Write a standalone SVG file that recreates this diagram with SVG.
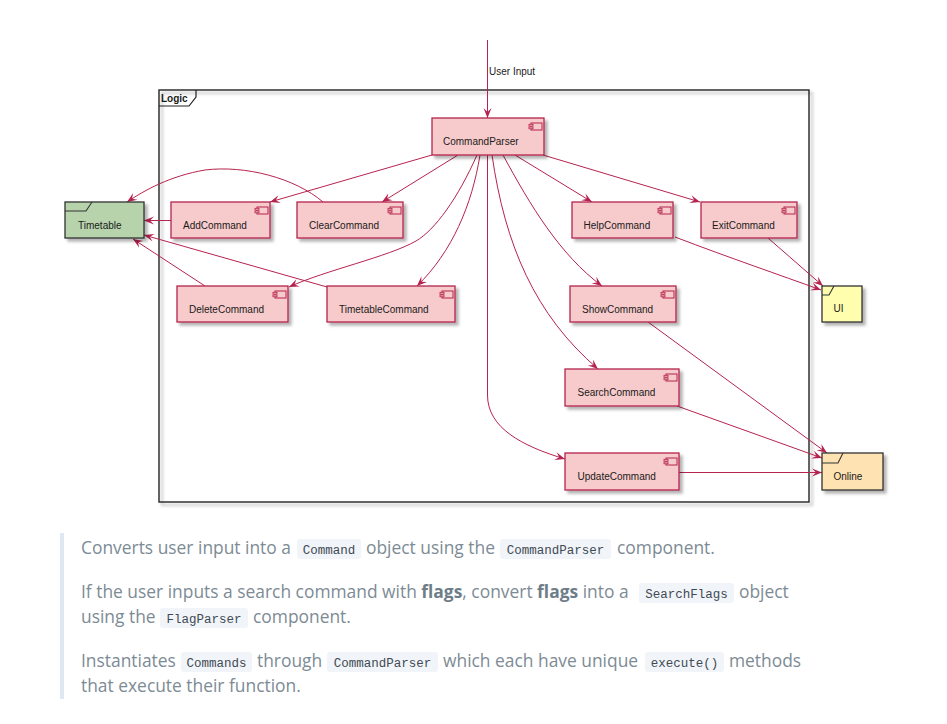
<svg xmlns="http://www.w3.org/2000/svg" xmlns:xlink="http://www.w3.org/1999/xlink" width="947" height="724" viewBox="0 0 947 724">
<style>
.comp{fill:#F7CBCB;stroke:#B5234E;stroke-width:1.3}
.lbl{font-family:"Liberation Sans",Arial,sans-serif;font-size:10px;fill:#1a1a1a}
.edge{fill:none;stroke:#B5234E;stroke-width:1}
.frm{stroke:#333;stroke-width:1.3}
.p{font-family:"Open Sans","Noto Sans",sans-serif;font-size:17.4px;fill:#7d8b95}
.b{font-weight:bold;fill:#6e7e89}
.code{font-family:"Liberation Mono","DejaVu Sans Mono",monospace;font-size:12.5px;fill:#3f4a54;text-anchor:middle}
.cbox{fill:#f1f4f8}
</style>
<defs>
<filter id="sh" x="-10%" y="-10%" width="130%" height="140%">
<feDropShadow dx="3" dy="3" stdDeviation="1.5" flood-color="#000" flood-opacity="0.3"/>
</filter>
<marker id="ah" viewBox="0 0 10 10" refX="10" refY="5" markerWidth="10" markerHeight="10" markerUnits="userSpaceOnUse" orient="auto">
<path d="M0,1 L10,5 L0,9 L4,5 Z" fill="#B5234E"/>
</marker>
<g id="icon">
<rect x="-13" y="0" width="11" height="7" fill="#F7CBCB" stroke="#B5234E" stroke-width="1"/>
<rect x="-15" y="1.3" width="4" height="1.8" fill="#F7CBCB" stroke="#B5234E" stroke-width="0.8"/>
<rect x="-15" y="4" width="4" height="1.8" fill="#F7CBCB" stroke="#B5234E" stroke-width="0.8"/>
</g>
</defs>
<rect width="947" height="724" fill="#fff"/>

<g id="logic-frame">
<rect x="159" y="90" width="650" height="412" fill="none" stroke="#222" stroke-width="1.4" filter="url(#sh)"/>
<path d="M159,106 L189,106 L196,97 L196,90" fill="none" stroke="#222" stroke-width="1.2"/>
<text x="161" y="102" class="lbl" font-weight="bold">Logic</text>
</g>

<g id="connectors">
<path class="edge" marker-end="url(#ah)" d="M487.5,40 L487.5,118"/>
<text x="489" y="75" class="lbl" font-size="9.6px">User Input</text>
<path class="edge" marker-end="url(#ah)" d="M432,155 L270,202"/>
<path class="edge" marker-end="url(#ah)" d="M458,155 L382,202"/>
<path class="edge" marker-end="url(#ah)" d="M477,155 C458,198 435,230 416,241 C388,257 326,270 289,287"/>
<path class="edge" marker-end="url(#ah)" d="M480,155 C472,205 452,252 417,286"/>
<path class="edge" marker-end="url(#ah)" d="M487.5,155 L487.5,395 C487.5,428 522,446 565,459"/>
<path class="edge" marker-end="url(#ah)" d="M492,155 C505,245 535,315 598,369"/>
<path class="edge" marker-end="url(#ah)" d="M503,155 C530,205 560,255 602,286"/>
<path class="edge" marker-end="url(#ah)" d="M515,155 L592,202"/>
<path class="edge" marker-end="url(#ah)" d="M543,155 L700,202"/>
<path class="edge" marker-end="url(#ah)" d="M171,220.5 L144,220.5"/>
<path class="edge" marker-end="url(#ah)" d="M323,202 C295,178 245,165 205,170 C170,176 145,190 127,202"/>
<path class="edge" marker-end="url(#ah)" d="M205,286 L133,239"/>
<path class="edge" marker-end="url(#ah)" d="M327,287 L144,235"/>
<path class="edge" marker-end="url(#ah)" d="M675,237 C730,258 780,275 821,290"/>
<path class="edge" marker-end="url(#ah)" d="M768,238 L823,286"/>
<path class="edge" marker-end="url(#ah)" d="M648,322 L827,453"/>
<path class="edge" marker-end="url(#ah)" d="M677,406 L822,458"/>
<path class="edge" marker-end="url(#ah)" d="M679,472.5 L822,472.5"/>
</g>

<g id="CommandParser">
<rect class="comp" x="432" y="118" width="112" height="37" filter="url(#sh)"/>
<use xlink:href="#icon" x="544" y="123"/>
<text class="lbl" x="443" y="145">CommandParser</text>
</g>
<g id="AddCommand">
<rect class="comp" x="171" y="202" width="99" height="36" filter="url(#sh)"/>
<use xlink:href="#icon" x="270" y="207"/>
<text class="lbl" x="183" y="228.5">AddCommand</text>
</g>
<g id="ClearCommand">
<rect class="comp" x="297" y="202" width="106" height="36" filter="url(#sh)"/>
<use xlink:href="#icon" x="403" y="207"/>
<text class="lbl" x="309" y="228.5">ClearCommand</text>
</g>
<g id="DeleteCommand">
<rect class="comp" x="177" y="286" width="111" height="36" filter="url(#sh)"/>
<use xlink:href="#icon" x="288" y="291"/>
<text class="lbl" x="189" y="312.5">DeleteCommand</text>
</g>
<g id="TimetableCommand">
<rect class="comp" x="327" y="286" width="128" height="36" filter="url(#sh)"/>
<use xlink:href="#icon" x="455" y="291"/>
<text class="lbl" x="339" y="312.5">TimetableCommand</text>
</g>
<g id="HelpCommand">
<rect class="comp" x="572" y="202" width="101" height="36" filter="url(#sh)"/>
<use xlink:href="#icon" x="673" y="207"/>
<text class="lbl" x="583.5" y="228.5">HelpCommand</text>
</g>
<g id="ExitCommand">
<rect class="comp" x="701" y="202" width="96" height="36" filter="url(#sh)"/>
<use xlink:href="#icon" x="797" y="207"/>
<text class="lbl" x="712" y="228.5">ExitCommand</text>
</g>
<g id="ShowCommand">
<rect class="comp" x="570" y="286" width="106" height="36" filter="url(#sh)"/>
<use xlink:href="#icon" x="676" y="291"/>
<text class="lbl" x="582" y="312.5">ShowCommand</text>
</g>
<g id="SearchCommand">
<rect class="comp" x="565" y="369" width="114" height="37" filter="url(#sh)"/>
<use xlink:href="#icon" x="679" y="374"/>
<text class="lbl" x="577.5" y="396">SearchCommand</text>
</g>
<g id="UpdateCommand">
<rect class="comp" x="565" y="453" width="114" height="37" filter="url(#sh)"/>
<use xlink:href="#icon" x="679" y="458"/>
<text class="lbl" x="577.5" y="480">UpdateCommand</text>
</g>

<g id="Timetable">
<rect class="frm" x="65" y="202" width="79" height="36" fill="#B6D3AC" filter="url(#sh)"/>
<path d="M65,211 L86,211 L92,202" fill="none" stroke="#333" stroke-width="1.1"/>
<text class="lbl" x="78" y="228.5">Timetable</text>
</g>
<g id="UI">
<rect class="frm" x="822" y="286" width="40" height="36" fill="#FEFEAE" filter="url(#sh)"/>
<path d="M822,295 L829,295 L834,286" fill="none" stroke="#333" stroke-width="1.1"/>
<text class="lbl" x="833.5" y="312">UI</text>
</g>
<g id="Online">
<rect class="frm" x="822" y="453" width="61" height="37" fill="#FFE2B2" filter="url(#sh)"/>
<path d="M822,463 L838,463 L843,453" fill="none" stroke="#333" stroke-width="1.1"/>
<text class="lbl" x="833.5" y="479.5">Online</text>
</g>

<g id="description">
<rect x="60" y="533" width="4" height="166" fill="#dfe7f0"/>
<rect class="cbox" x="297" y="539" width="64" height="20" rx="3"/>
<rect class="cbox" x="500" y="539" width="111" height="20" rx="3"/>
<rect class="cbox" x="639" y="583" width="95" height="20" rx="3"/>
<rect class="cbox" x="160" y="608" width="88" height="20" rx="3"/>
<rect class="cbox" x="181" y="652" width="71" height="20" rx="3"/>
<rect class="cbox" x="327" y="652" width="111" height="20" rx="3"/>
<rect class="cbox" x="645" y="652" width="79" height="20" rx="3"/>

<text class="p" x="81" y="554">Converts user input into a</text>
<text class="code" x="329" y="553.5">Command</text>
<text class="p" x="366" y="554">object using the</text>
<text class="code" x="555.5" y="553.5">CommandParser</text>
<text class="p" x="617" y="554">component.</text>

<text class="p" x="81" y="598">If the user inputs a search command with <tspan class="b">flags</tspan>, convert <tspan class="b">flags</tspan> into a</text>
<text class="code" x="686.5" y="597.5">SearchFlags</text>
<text class="p" x="739" y="598">object</text>

<text class="p" x="81" y="623">using the</text>
<text class="code" x="204" y="622.5">FlagParser</text>
<text class="p" x="253" y="623">component.</text>

<text class="p" x="81" y="667">Instantiates</text>
<text class="code" x="216.5" y="666.5">Commands</text>
<text class="p" x="257" y="667">through</text>
<text class="code" x="382.5" y="666.5">CommandParser</text>
<text class="p" x="443" y="667">which each have unique</text>
<text class="code" x="684.5" y="666.5">execute()</text>
<text class="p" x="729" y="667">methods</text>

<text class="p" x="81" y="692">that execute their function.</text>
</g>
</svg>
